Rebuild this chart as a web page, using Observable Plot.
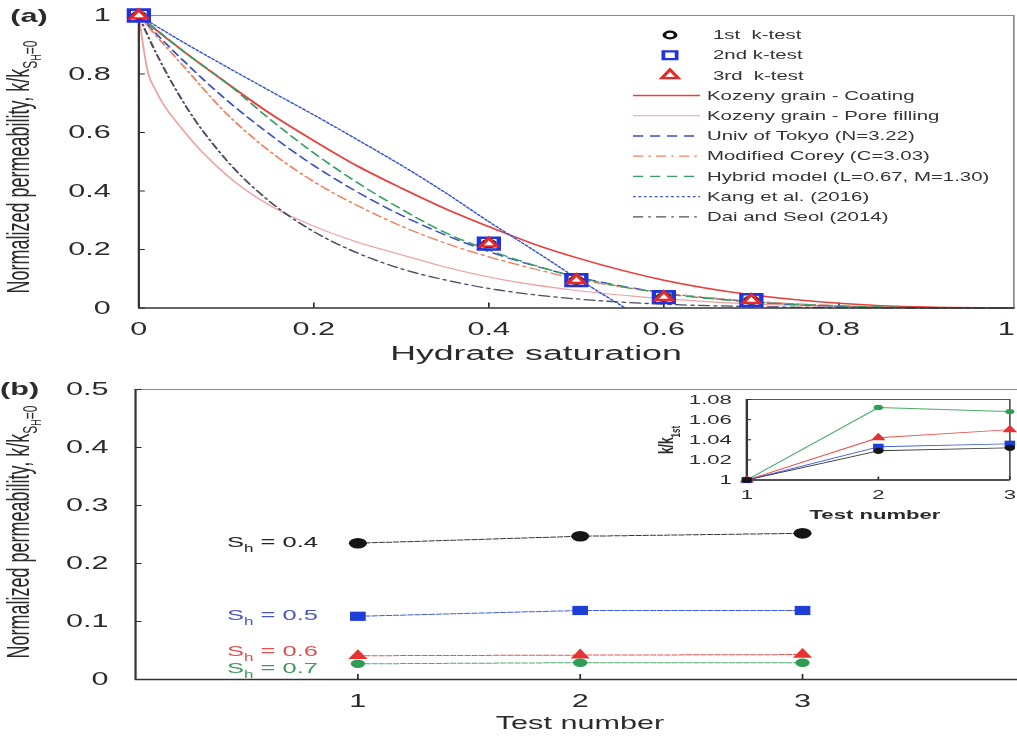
<!DOCTYPE html>
<html>
<head>
<meta charset="utf-8">
<script src="https://cdn.jsdelivr.net/npm/d3@7"></script>
<script src="https://cdn.jsdelivr.net/npm/@observablehq/plot@0.6"></script>
<style>
  html, body { margin: 0; padding: 0; background: #fff; overflow: hidden; }
  #stage {
    position: relative; width: 598px; height: 736px;
    transform: scaleX(1.70067); transform-origin: 0 0;
    font-family: "Liberation Sans", Arial, Helvetica, sans-serif;
  }
  #stage > svg { position: absolute; left: 0; }
</style>
</head>
<body>
<div id="stage"></div>
<script>
// ---------- (a) permeability models vs hydrate saturation ----------
const shGrid            = [0, 0.01, 0.02, 0.05, 0.1, 0.15, 0.2, 0.25, 0.3, 0.35, 0.4, 0.45, 0.5, 0.6, 0.7, 0.8, 0.9, 1];
const kozenyCoating     = [1, 0.975, 0.95, 0.88, 0.77, 0.665, 0.572, 0.485, 0.41, 0.34, 0.278, 0.22, 0.172, 0.095, 0.045, 0.016, 0.003, 0];
const kozenyPoreFilling = [1, 0.81, 0.74, 0.61, 0.455, 0.35, 0.28, 0.225, 0.182, 0.14, 0.106, 0.08, 0.06, 0.032, 0.014, 0.005, 0.001, 0];
const univTokyo         = [1, 0.968, 0.937, 0.848, 0.712, 0.593, 0.487, 0.396, 0.317, 0.25, 0.193, 0.146, 0.107, 0.052, 0.021, 0.006, 0.001, 0];
const modifiedCorey     = [1, 0.965, 0.93, 0.83, 0.665, 0.535, 0.432, 0.35, 0.28, 0.222, 0.175, 0.135, 0.1, 0.052, 0.024, 0.008, 0.001, 0];
const hybridModel       = [1, 0.975, 0.952, 0.88, 0.77, 0.645, 0.53, 0.428, 0.338, 0.258, 0.198, 0.148, 0.106, 0.05, 0.021, 0.007, 0.001, 0];
const daiSeol           = [1, 0.932, 0.87, 0.708, 0.506, 0.363, 0.261, 0.188, 0.134, 0.096, 0.067, 0.046, 0.031, 0.013, 0.005, 0.001, 0, 0];
const kangSh            = [0, 0.05, 0.1, 0.15, 0.2, 0.25, 0.3, 0.35, 0.4, 0.45, 0.5, 0.556];
const kang              = [1, 0.91, 0.825, 0.742, 0.66, 0.575, 0.488, 0.395, 0.295, 0.2, 0.103, 0];

const modelNames = ["Kozeny grain - Coating", "Kozeny grain - Pore filling", "Univ of Tokyo (N=3.22)",
  "Modified Corey (C=3.03)", "Hybrid model (L=0.67, M=1.30)", "Kang et al. (2016)", "Dai and Seol (2014)"];

// measured k/k0 of the three permeability tests
const measuredSh = [0, 0.4, 0.5, 0.6, 0.7];
const test1K     = [1, 0.22, 0.095, 0.037, 0.027];
const test2K     = [1, 0.22, 0.095, 0.037, 0.027];
const test3K     = [1, 0.22, 0.095, 0.037, 0.027];
const testNames  = ["1st  k-test", "2nd k-test", "3rd  k-test"];

const xTicksA = [0, 0.2, 0.4, 0.6, 0.8, 1];
const yTicksA = [0, 0.2, 0.4, 0.6, 0.8, 1];

// ---------- (b) repeated tests at each saturation ----------
const testNumbers = [1, 2, 3];
const shLabels    = ["0.4", "0.5", "0.6", "0.7"];
const sh04 = [0.235, 0.247, 0.252];
const sh05 = [0.109, 0.119, 0.119];
const sh06 = [0.041, 0.042, 0.043];
const sh07 = [0.027, 0.029, 0.029];
// inset: permeability relative to the 1st test
const ratio04 = [1, 1.029, 1.032];
const ratio05 = [1, 1.033, 1.036];
const ratio06 = [1, 1.042, 1.050];
const ratio07 = [1, 1.072, 1.068];
const yTicksB = [0, 0.1, 0.2, 0.3, 0.4, 0.5];
const yTicksInset = [1, 1.02, 1.04, 1.06, 1.08];

// ---------- layout / styling ----------
const S = 1017 / 598;          // the figure is drawn narrow and stretched horizontally
const W = 598;
const px = v => v / S;
const fmt = d3.format("~g");
const font = '"Liberation Sans", Arial, Helvetica, sans-serif';
const ink = "#2b2b2b";

const modelStyles = [
  {stroke: "#e8403c", width: 1.5, dash: null},
  {stroke: "#eea0a0", width: 1.1, dash: null},
  {stroke: "#3a4fc6", width: 1.3, dash: "6,4"},
  {stroke: "#ee8262", width: 1.3, dash: "6,3,1.5,3"},
  {stroke: "#34a062", width: 1.3, dash: "6,4"},
  {stroke: "#3553d6", width: 1.2, dash: "1.6,1.6"},
  {stroke: "#4c4c66", width: 1.3, dash: "6,3,1.5,3"}
];
const testStyles = [
  {symbol: "circle",   r: 3.8, stroke: "#111",    fill: "none",  sw: 1.8, legendR: 3.3},
  {symbol: "square",   r: 6.6, stroke: "#2233dd", fill: "none",  sw: 2.6, legendR: 4.4},
  {symbol: "triangle", r: 3.6, stroke: "#e82828", fill: "white", sw: 2.3, legendR: 3.6}
];
const bStyles = [
  {stroke: "#151515", text: "#222",    symbol: "circle",   r: 5.3, rIn: 3.1, dy: -0.5},
  {stroke: "#1d3fd6", text: "#4b55c6", symbol: "square",   r: 5.2, rIn: 3.5, dy: -1.5},
  {stroke: "#e63232", text: "#e05050", symbol: "triangle", r: 4.2, rIn: 3.2, dy: -4},
  {stroke: "#2e9c52", text: "#3f9a5e", symbol: "circle",   r: 4.2, rIn: 2.7, dy: 4}
];

const models = [
  [shGrid, kozenyCoating], [shGrid, kozenyPoreFilling], [shGrid, univTokyo],
  [shGrid, modifiedCorey], [shGrid, hybridModel], [kangSh, kang], [shGrid, daiSeol]
].map(([xs, ys], i) => ({name: modelNames[i], rows: xs.map((x, j) => ({sh: x, k: ys[j]}))}));

const tests = [test1K, test2K, test3K].map((ks, i) =>
  ({name: testNames[i], rows: measuredSh.map((s, j) => ({sh: s, k: ks[j]}))}));

const seriesB = [[sh04, ratio04], [sh05, ratio05], [sh06, ratio06], [sh07, ratio07]].map(([v, r], i) => ({
  label: shLabels[i],
  rows: testNumbers.map((t, j) => ({test: t, k: v[j], ratio: r[j], sh: shLabels[i]}))
}));

const stage = document.getElementById("stage");

// ---------- panel (a) ----------
const plotA = Plot.plot({
  width: W, height: 365,
  marginLeft: px(138), marginRight: W - px(1013), marginTop: 15, marginBottom: 57.5,
  x: {domain: [0, 1]}, y: {domain: [0, 1]},
  style: {fontFamily: font, fontSize: "18px", color: ink, background: "transparent", overflow: "visible"},
  marks: [
    Plot.ruleY([1], {stroke: "#8a8a8a", strokeWidth: 1}),
    Plot.ruleX([1], {stroke: "#8a8a8a", strokeWidth: 1}),
    Plot.axisX({ticks: xTicksA.slice(0, -1), tickFormat: fmt, tickSize: -5, tickPadding: 19, label: null, color: ink}),
    // the last label sits at the right edge of the page, so it is nudged inward
    Plot.axisX({ticks: xTicksA.slice(-1), tickFormat: fmt, tickSize: 0, tickPadding: 14, dx: -4.5, label: null, color: ink}),
    Plot.axisY({ticks: yTicksA, tickFormat: fmt, tickSize: -4, tickPadding: 20.5, label: null, color: ink}),
    ...models.map((m, i) => Plot.line(m.rows, {
      x: "sh", y: "k", curve: "monotone-x",
      stroke: modelStyles[i].stroke, strokeWidth: modelStyles[i].width,
      strokeDasharray: modelStyles[i].dash
    })),
    Plot.ruleY([0], {stroke: "#333", strokeWidth: 1.6}),
    Plot.ruleX([0], {stroke: "#333", strokeWidth: 1.3}),
    ...tests.map((t, i) => Plot.dot(t.rows, {
      x: "sh", y: "k", symbol: testStyles[i].symbol, r: testStyles[i].r,
      stroke: testStyles[i].stroke, fill: testStyles[i].fill, strokeWidth: testStyles[i].sw
    }))
  ]
});
plotA.style.top = "0px";
stage.appendChild(plotA);

// ---------- panel (b) ----------
const plotB = Plot.plot({
  width: W, height: 371,
  marginLeft: px(134.7), marginRight: 0, marginTop: 24, marginBottom: 57,
  x: {domain: [0, 4], range: [px(134.7), px(1024)]},
  y: {domain: [0, 0.5]},
  style: {fontFamily: font, fontSize: "18px", color: ink, background: "transparent", overflow: "visible"},
  marks: [
    Plot.ruleY([0.5], {stroke: "#8a8a8a", strokeWidth: 1}),
    Plot.axisX({ticks: testNumbers, tickFormat: fmt, tickSize: -5, tickPadding: 20, label: null, color: ink}),
    Plot.axisY({ticks: yTicksB, tickFormat: fmt, tickSize: -4, tickPadding: 19.9, label: null, color: ink}),
    ...seriesB.map((s, i) => Plot.line(s.rows, {
      x: "test", y: "k", stroke: bStyles[i].stroke, strokeWidth: 1, strokeDasharray: "3,1.2", strokeOpacity: 0.85
    })),
    ...seriesB.map((s, i) => Plot.dot(s.rows, {
      x: "test", y: "k", symbol: bStyles[i].symbol, r: bStyles[i].r, fill: bStyles[i].stroke, stroke: "none"
    })),
    Plot.ruleY([0], {stroke: "#333", strokeWidth: 1.6}),
    Plot.ruleX([0], {stroke: "#333", strokeWidth: 1.3})
  ]
});
plotB.style.top = "365px";
stage.appendChild(plotB);

// ---------- inset ----------
const plotC = Plot.plot({
  width: W, height: 371,
  marginLeft: px(746), marginRight: W - px(1009), marginTop: 34, marginBottom: 371 - 114.5,
  x: {domain: [1, 3]}, y: {domain: [1, 1.08]},
  style: {fontFamily: font, fontSize: "13px", color: ink, background: "transparent", overflow: "visible"},
  marks: [
    Plot.frame({stroke: "#555", strokeWidth: 1}),
    Plot.axisX({ticks: testNumbers, tickFormat: fmt, tickSize: -3, tickPadding: 13, label: null, color: ink}),
    Plot.axisY({ticks: yTicksInset, tickFormat: fmt, tickSize: -3, tickPadding: 11.8, label: null, color: ink}),
    Plot.ruleX([1], {stroke: "#333", strokeWidth: 1.4}),
    Plot.ruleY([1], {stroke: "#333", strokeWidth: 1.4}),
    ...seriesB.map((s, i) => Plot.line(s.rows, {
      x: "test", y: "ratio", stroke: bStyles[i].stroke, strokeWidth: 0.9, strokeOpacity: 0.85
    })),
    ...seriesB.slice().reverse().map((s, k) => {
      const i = seriesB.length - 1 - k;
      return Plot.dot(s.rows, {x: "test", y: "ratio", symbol: bStyles[i].symbol, r: bStyles[i].rIn,
        fill: bStyles[i].stroke, stroke: "none"});
    })
  ]
});
plotC.style.top = "365px";
stage.appendChild(plotC);

// ---------- text decorations ----------
function yTitle(svg, x, y) {
  const t = d3.select(svg).append("text")
    .attr("transform", `translate(${x},${y}) rotate(-90)`)
    .attr("text-anchor", "middle").attr("font-size", 18).attr("fill", ink);
  t.append("tspan").text("Normalized permeability, k/k");
  t.append("tspan").attr("font-size", 12).attr("dy", 5).text("S");
  t.append("tspan").attr("font-size", 9).attr("dy", 2).text("H");
  t.append("tspan").attr("font-size", 12).attr("dy", -2).text("=0");
}
function plainText(svg, x, y, str, size, opts = {}) {
  d3.select(svg).append("text")
    .attr("x", x).attr("y", y)
    .attr("font-size", size)
    .attr("font-weight", opts.weight || "normal")
    .attr("text-anchor", opts.anchor || "start")
    .attr("fill", opts.fill || ink)
    .text(str);
}

// panel (a)
plainText(plotA, 6, 22, "(a)", 18, {weight: "bold"});
yTitle(plotA, 17, 167);
plainText(plotA, px(536), 360, "Hydrate saturation", 21, {anchor: "middle"});

// panel (a) legend
{
  const g = d3.select(plotA).append("g")
    .attr("font-size", 12).attr("fill", "#333").attr("text-anchor", "start");
  const rowY = i => 35 + i * 20.2;
  tests.forEach((t, i) => {
    const st = testStyles[i];
    const type = {circle: d3.symbolCircle, square: d3.symbolSquare, triangle: d3.symbolTriangle}[st.symbol];
    g.append("path")
      .attr("d", d3.symbol(type, Math.PI * st.legendR * st.legendR)())
      .attr("transform", `translate(${px(670)},${rowY(i)})`)
      .attr("fill", st.fill).attr("stroke", st.stroke).attr("stroke-width", 2.2);
    g.append("text").attr("x", px(713)).attr("y", rowY(i)).attr("dy", "0.35em")
      .style("white-space", "pre").text(t.name);
  });
  models.forEach((m, i) => {
    const y = rowY(i + 3);
    const st = modelStyles[i];
    g.append("line").attr("x1", px(633)).attr("x2", px(700)).attr("y1", y).attr("y2", y)
      .attr("stroke", st.stroke).attr("stroke-width", st.width)
      .attr("stroke-dasharray", st.dash);
    g.append("text").attr("x", px(707)).attr("y", y).attr("dy", "0.35em").text(m.name);
  });
}

// panel (b)
plainText(plotB, 0, 30, "(b)", 18, {weight: "bold"});
yTitle(plotB, 17, 167);
plainText(plotB, px(580), 364, "Test number", 18, {anchor: "middle"});
{
  const sx = plotB.scale("x"), sy = plotB.scale("y");
  seriesB.forEach((s, i) => {
    const first = s.rows[0];
    const t = d3.select(plotB).append("text")
      .attr("x", sx.apply(first.test) - px(39))
      .attr("y", sy.apply(first.k) + bStyles[i].dy)
      .attr("dy", "0.35em").attr("text-anchor", "end")
      .attr("font-size", 15).attr("fill", bStyles[i].text);
    t.append("tspan").text("S");
    t.append("tspan").attr("font-size", 10).attr("dy", 5).text("h");
    t.append("tspan").attr("dy", -5).style("white-space", "pre").text(" = " + s.label);
  });
}

// inset titles
plainText(plotC, px(875), 154, "Test number", 13, {anchor: "middle", weight: "bold"});
{
  const t = d3.select(plotC).append("text")
    .attr("transform", `translate(${px(673)},75) rotate(-90)`)
    .attr("text-anchor", "middle").attr("font-size", 12).attr("font-weight", "bold").attr("fill", ink);
  t.append("tspan").text("k/k");
  t.append("tspan").attr("font-size", 8).attr("dy", 4).text("1st");
}
</script>
</body>
</html>
